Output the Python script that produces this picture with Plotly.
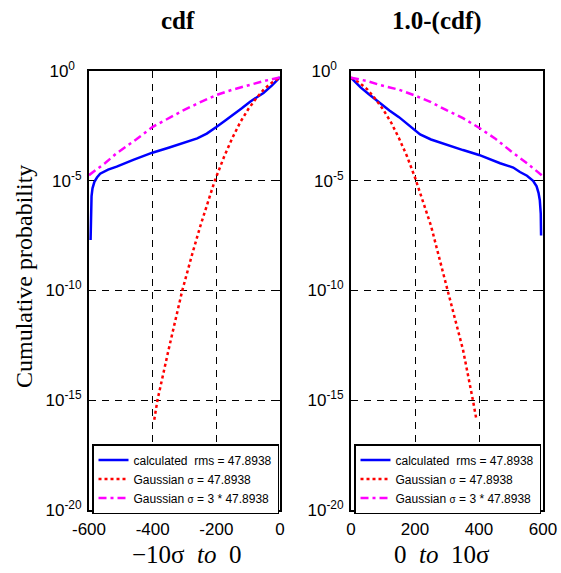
import plotly.graph_objects as go

W, H = 561, 573

# ---------------- data ----------------
# left panel: cdf, x from -600 to 0
left_calc_x = [-595, -594, -592, -589, -583, -575, -565, -540, -513, -461, -401, -350, -305,
               -260, -230, -215, -200, -175, -147, -120, -94, -72, -52, -25, 0]
left_calc_y = [2.0e-8, 6.3e-7, 2.0e-6, 4.5e-6, 8.9e-6, 1.4e-5, 2.1e-5, 3.2e-5, 4.4e-5, 8.9e-5,
               1.9e-4, 3.2e-4, 5.1e-4, 8.5e-4, 1.4e-3, 1.9e-3, 2.8e-3, 5.2e-3, 1.0e-2, 2.0e-2,
               4.0e-2, 6.3e-2, 1.0e-1, 2.2e-1, 5.2e-1]

left_g1_x = [-395, -385, -350, -307, -275, -250, -205, -175, -150, -125, -100, -75, -50, -25, 0]
left_g1_y = [1.3e-16, 1.0e-15, 2.0e-13, 1.0e-10, 5.0e-9, 8.9e-8, 1.0e-5, 1.3e-4, 8.7e-4,
             4.6e-3, 1.8e-2, 5.6e-2, 1.5e-1, 3.0e-1, 5.0e-1]

left_g3_x = [-600, -550, -513, -450, -401, -350, -304, -250, -199, -150, -94, -50, 0]
left_g3_y = [1.8e-5, 6.3e-5, 1.8e-4, 7.9e-4, 2.8e-3, 7.1e-3, 1.6e-2, 3.8e-2, 8.1e-2,
             1.4e-1, 2.4e-1, 3.5e-1, 5.1e-1]

# right panel: 1.0-(cdf), x from 0 to 600
right_calc_x = [0, 30, 55, 90, 120, 150, 180, 200, 216, 250, 299, 350, 400, 466, 507, 528,
                550, 569, 580, 586, 590, 593, 594]
right_calc_y = [5.0e-1, 1.8e-1, 8.9e-2, 3.4e-2, 1.6e-2, 7.9e-3, 3.5e-3, 2.0e-3, 1.3e-3,
                7.6e-4, 4.3e-4, 2.5e-4, 1.5e-4, 6.3e-5, 4.0e-5, 2.5e-5, 1.7e-5, 1.0e-5,
                5.6e-6, 2.8e-6, 1.3e-6, 3.2e-7, 3.2e-8]

right_g1_x = [0, 25, 50, 75, 100, 125, 150, 175, 200, 250, 300, 350, 381, 392]
right_g1_y = [5.0e-1, 3.0e-1, 1.5e-1, 5.6e-2, 1.8e-2, 4.6e-3, 8.7e-4, 1.3e-4, 1.4e-5,
              8.9e-8, 1.3e-10, 2.0e-13, 1.0e-15, 1.3e-16]

right_g3_x = [0, 50, 91, 150, 200, 250, 300, 350, 400, 450, 500, 550, 600]
right_g3_y = [5.0e-1, 3.5e-1, 2.3e-1, 1.4e-1, 7.6e-2, 3.8e-2, 1.6e-2, 7.1e-3, 2.6e-3,
              8.5e-4, 2.2e-4, 6.3e-5, 1.6e-5]

names = ["calculated  rms = 47.8938",
         "Gaussian <span style='font-size:10px'>σ</span> = 47.8938",
         "Gaussian <span style='font-size:10px'>σ</span> = 3 * 47.8938"]

left_ticks = [-600, -400, -200, 0]
right_ticks = [0, 200, 400, 600]
y_ticks = [1, 1e-5, 1e-10, 1e-15, 1e-20]
y_ticktext = ["10<sup>0\u00a0\u00a0</sup>", "10<sup>-5</sup>", "10<sup>-10</sup>",
              "10<sup>-15</sup>", "10<sup>-20</sup>"]

# ---------------- figure ----------------
BLUE, RED, MAG = "#0000ff", "#ff0000", "#ff00ff"
styles = [dict(color=BLUE, width=2.5, dash="solid"),
          dict(color=RED, width=2.5, dash="3px,3px"),
          dict(color=MAG, width=2.5, dash="8px,4px,3px,4px")]

fig = go.Figure()
panels = [
    ("x", "y", "legend", [(left_calc_x, left_calc_y), (left_g1_x, left_g1_y), (left_g3_x, left_g3_y)]),
    ("x2", "y2", "legend2", [(right_calc_x, right_calc_y), (right_g1_x, right_g1_y), (right_g3_x, right_g3_y)]),
]
for xa, ya, lg, series in panels:
    for (sx, sy), nm, st in zip(series, names, styles):
        fig.add_trace(go.Scatter(x=sx, y=sy, mode="lines", name=nm, line=st,
                                 xaxis=xa, yaxis=ya, legend=lg, showlegend=True))

def px_x(p):
    return p / W

def px_y(p):
    return 1 - p / H

tickfont = dict(family="Liberation Sans, Arial, sans-serif", size=17, color="black")
axis_common = dict(showline=True, linecolor="black", linewidth=2, mirror="allticks",
                   ticks="inside", ticklen=5, tickwidth=1, tickcolor="black",
                   showgrid=True, gridcolor="black", gridwidth=1, griddash="7px,6px",
                   zeroline=False, tickfont=tickfont, automargin=False)

legend_font = dict(family="Liberation Sans, Arial, sans-serif", size=12, color="black")

fig.update_layout(
    width=W, height=H, margin=dict(l=0, r=0, t=0, b=0, autoexpand=False),
    paper_bgcolor="white", plot_bgcolor="white",
    xaxis=dict(domain=[px_x(89), px_x(280)], range=[-600, 0], tickmode="array",
               tickvals=left_ticks, ticktext=[str(v) for v in left_ticks],
               anchor="y", ticklabelstandoff=3, **axis_common),
    yaxis=dict(domain=[px_y(510), px_y(71)], type="log", range=[-20, 0], tickmode="array",
               tickvals=y_ticks, ticktext=y_ticktext, anchor="x", ticklabelstandoff=2,
               **axis_common),
    xaxis2=dict(domain=[px_x(351), px_x(543)], range=[0, 600], tickmode="array",
                tickvals=right_ticks, ticktext=[str(v) for v in right_ticks],
                anchor="y2", ticklabelstandoff=3, **axis_common),
    yaxis2=dict(domain=[px_y(510), px_y(71)], type="log", range=[-20, 0], tickmode="array",
                tickvals=y_ticks, ticktext=y_ticktext, anchor="x2", ticklabelstandoff=2,
                **axis_common),
    legend=dict(x=px_x(92), y=px_y(444), xanchor="left", yanchor="top",
                bgcolor="white", bordercolor="black", borderwidth=1.5,
                font=legend_font, itemwidth=30, tracegroupgap=0),
    legend2=dict(x=px_x(354), y=px_y(444), xanchor="left", yanchor="top",
                 bgcolor="white", bordercolor="black", borderwidth=1.5,
                 font=legend_font, itemwidth=30, tracegroupgap=0),
    showlegend=True,
)

serif = "Liberation Serif, Times New Roman, serif"
annots = [
    dict(text="<b>cdf</b>", x=px_x(177.5), y=px_y(21), size=25, angle=0),
    dict(text="<b>1.0-(cdf)</b>", x=px_x(436.5), y=px_y(21), size=25, angle=0),
    dict(text="−10σ\u00a0\u00a0<i>to</i>\u00a0\u00a00", x=px_x(187), y=px_y(554), size=25, angle=0),
    dict(text="0\u00a0\u00a0<i>to</i>\u00a0\u00a010σ", x=px_x(442), y=px_y(554), size=25, angle=0),
    dict(text="Cumulative probability", x=px_x(24), y=px_y(277), size=24, angle=-90),
]
for a in annots:
    fig.add_annotation(text=a["text"], x=a["x"], y=a["y"], xref="paper", yref="paper",
                       xanchor="center", yanchor="middle", showarrow=False,
                       textangle=a["angle"],
                       font=dict(family=serif, size=a["size"], color="black"))

fig.write_html("out.html")
